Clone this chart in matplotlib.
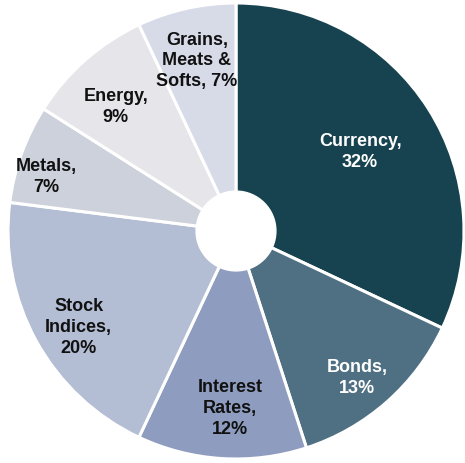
import numpy as np
import matplotlib.pyplot as plt

labels = ["Currency,\n32%", "Bonds,\n13%", "Interest\nRates,\n12%", "Stock\nIndices,\n20%",
          "Metals,\n7%", "Energy,\n9%", "Grains,\nMeats &\nSofts, 7%"]
shares = [32, 13, 12, 20, 7, 9, 7]
colors = ["#16434f", "#4f6f83", "#8e9dbf", "#b3bdd4", "#cdd1dc", "#e6e6ea", "#d7dbe8"]
text_colors = ["white", "white", "#111111", "#111111", "#111111", "#111111", "#111111"]
# label placement: radius and small angle nudge (degrees)
label_r = [0.645, 0.835, 0.78, 0.81, 0.866, 0.757, 0.765]
label_nudge = [0, -1.9, 1.7, 2.8, 3.9, 2.7, 0.3]

plt.rcParams['font.family'] = ['Liberation Sans Narrow', 'Liberation Sans', 'DejaVu Sans']

fig = plt.figure(figsize=(4.65, 4.63), dpi=100)
ax = fig.add_axes([0, 0, 1, 1])

wedges, _ = ax.pie(shares, colors=colors, startangle=90, counterclock=False,
                   radius=1.0, wedgeprops=dict(edgecolor="white", linewidth=2.2))

ax.add_patch(plt.Circle((0, 0), 0.175, color="white", zorder=5))

for w, lab, tc, r, d in zip(wedges, labels, text_colors, label_r, label_nudge):
    ang = np.deg2rad((w.theta1 + w.theta2) / 2 + d)
    ax.text(r * np.cos(ang), r * np.sin(ang), lab, ha="center", va="center",
            color=tc, fontsize=13, fontweight="bold", linespacing=1.3, zorder=6)

ax.set_xlim(-236 / 228, (465 - 236) / 228)
ax.set_ylim(-232 / 228, (463 - 232) / 228)
ax.set_aspect("auto")
ax.axis("off")

fig.savefig("out.png", dpi=100)
